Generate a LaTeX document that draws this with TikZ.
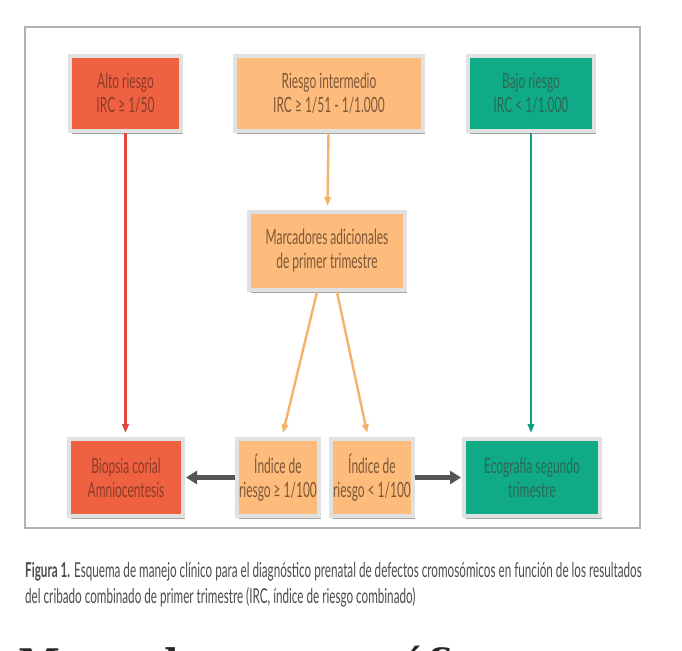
\documentclass[tikz,border=0pt]{standalone}
\usepackage{fontspec}
\setmainfont{Lato}[FakeStretch=0.57]
\newfontfamily\headfont{DejaVu Serif}
\usetikzlibrary{positioning, arrows.meta, shadows}

\definecolor{rojo}{HTML}{EE6241}
\definecolor{naranja}{HTML}{FDBB7C}
\definecolor{verde}{HTML}{10AA86}
\definecolor{marco}{HTML}{E0E1E1}
\definecolor{rojotxt}{HTML}{8E3A28}
\definecolor{naranjatxt}{HTML}{7D5838}
\definecolor{verdetxt}{HTML}{2A6A56}
\definecolor{flecharoja}{HTML}{E5463B}
\definecolor{flechanaranja}{HTML}{F4B169}
\definecolor{flechaverde}{HTML}{12A07F}
\definecolor{flechagris}{HTML}{555555}

\begin{document}
\begin{tikzpicture}[x=1pt, y=-1pt,
    caja/.style={draw=marco, line width=4pt, inner sep=2pt, align=center,
                 font=\fontsize{21}{24}\selectfont,
                 drop shadow={shadow xshift=1.5pt, shadow yshift=-3pt, fill=black!45, opacity=.8}},
    flecha/.style={line width=2.4pt, -{Triangle[length=9pt, width=6.5pt]}, shorten >=4pt}]
    \fill[white] (0,0) rectangle (682,650);
    \useasboundingbox (0,0) rectangle (682,650);
    \draw[black!30, line width=1.2pt] (25,27) rectangle (640,528);

    % fila superior
    \node[caja, fill=rojo, text=rojotxt, minimum width=111pt, minimum height=75pt] (alto) at (125.5,93.5) {Alto riesgo\\IRC ≥ 1/50};
    \node[caja, fill=naranja, text=naranjatxt, minimum width=188pt, minimum height=75pt] (inter) at (329,93.5) {Riesgo intermedio\\IRC ≥ 1/51 - 1/1.000};
    \node[caja, fill=verde, text=verdetxt, minimum width=126pt, minimum height=75pt] (bajo) at (531,93.5) {Bajo riesgo\\IRC < 1/1.000};

    \node[caja, fill=naranja, text=naranjatxt, minimum width=156pt, minimum height=78pt] (marc) at (327,251) {Marcadores adicionales\\de primer trimestre};

    % fila inferior
    \node[caja, fill=rojo, text=rojotxt, minimum width=114pt, minimum height=77pt] (biopsia) at (126,477.5) {Biopsia corial\\Amniocentesis};
    \node[caja, fill=naranja, text=naranjatxt, minimum width=82pt, minimum height=77pt] (ind1) at (278,477.5) {Índice de\\riesgo ≥ 1/100};
    \node[caja, fill=naranja, text=naranjatxt, minimum width=82pt, minimum height=77pt, right=8pt of ind1] (ind2) {Índice de\\riesgo < 1/100};
    \node[caja, fill=verde, text=verdetxt, minimum width=136pt, minimum height=77pt] (eco) at (532,477.5) {Ecografía segundo\\trimestre};

    \draw[flecha, flecharoja] (alto) -- (alto |- biopsia.north);
    \draw[flecha, flechaverde, line width=2pt] (bajo) -- (bajo |- eco.north);
    \draw[flecha, flechanaranja] (inter) -- (marc);
    \draw[flecha, flechanaranja] ([xshift=-10pt]marc.south) -- ([xshift=4pt]ind1.north);
    \draw[flecha, flechanaranja] ([xshift=10pt]marc.south) -- ([xshift=-4pt]ind2.north);
    \draw[flechagris, line width=4.5pt, -{Triangle[length=11pt, width=13pt]}, shorten >=1pt] (ind1) -- (biopsia);
    \draw[flechagris, line width=4.5pt, -{Triangle[length=11pt, width=13pt]}, shorten >=1pt] (ind2) -- (eco);

    \node[anchor=north west, inner sep=0pt, align=left, text=black!70,
          font=\fontsize{20.5}{26}\selectfont] (pie) at (25,562)
        {\textbf{Figura 1.} Esquema de manejo clínico para el diagnóstico prenatal de defectos cromosómicos en función de los resultados\\
         del cribado combinado de primer trimestre (IRC, índice de riesgo combinado)};

    \begin{scope}
        \clip (0,0) rectangle (682,650);
        \node[anchor=base west, inner sep=0pt, text=black!85, font=\headfont\bfseries\fontsize{38}{42}\selectfont] (titulo) at (18,676) {Marcadores ecográficos};
    \end{scope}
\end{tikzpicture}
\end{document}
